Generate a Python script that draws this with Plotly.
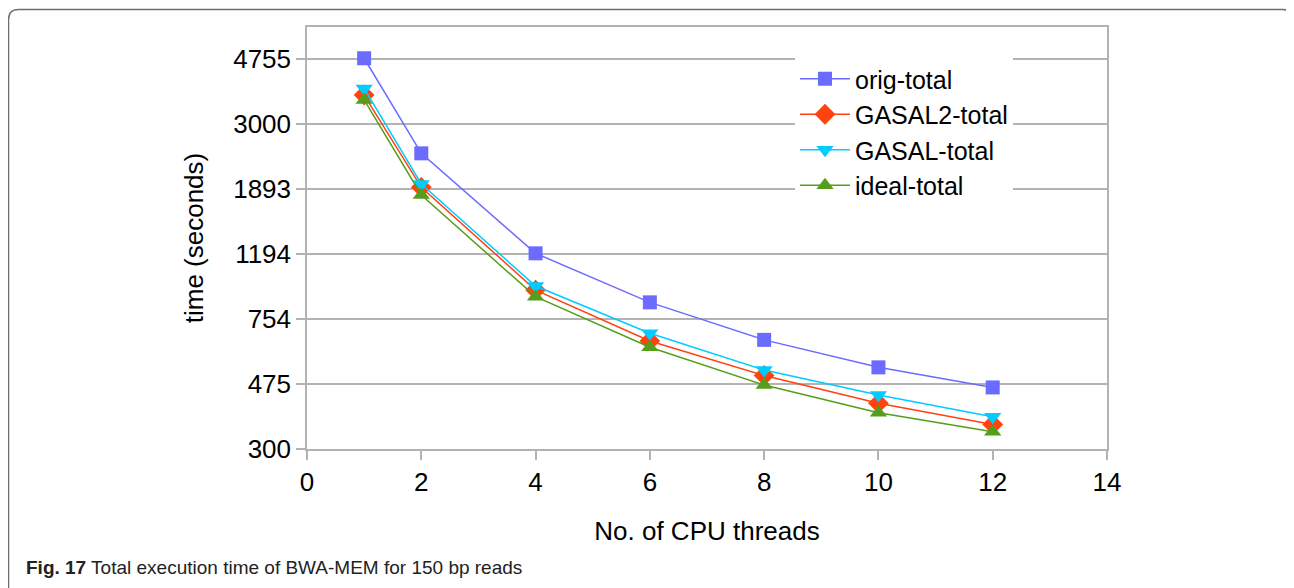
import plotly.graph_objects as go
import math

threads = [1, 2, 4, 6, 8, 10, 12]
orig_total = [4780, 2437, 1200, 848, 650, 535, 464]
gasal2_total = [3684, 1916, 925, 645, 505, 415, 357]
gasal_total = [3860, 1962, 952, 681, 525, 440, 377]
ideal_total = [3558, 1814, 883, 617, 472, 388, 339]

y_ticks = [300, 475, 754, 1194, 1893, 3000, 4755]
x_ticks = [0, 2, 4, 6, 8, 10, 12, 14]

# page body has an 8px margin; figure sized to fit the window
OFF = 8
W, H = 1294 - OFF, 588 - OFF
L, R, T, B = 307 - OFF, 1107 - OFF, 27 - OFF, 449 - OFF

def px(x):
    return (x - OFF - L) / (R - L)

def py(y):
    return (B - (y - OFF)) / (B - T)

fig = go.Figure()
series = [
    ("orig-total", orig_total, "#6b6bff", "square", 14),
    ("GASAL2-total", gasal2_total, "#ff420e", "diamond", 16),
    ("GASAL-total", gasal_total, "#00ccff", "triangle-down", 15),
    ("ideal-total", ideal_total, "#579d1c", "triangle-up", 15),
]
for name, vals, col, sym, sz in series:
    fig.add_trace(go.Scatter(
        x=threads, y=vals, name=name, mode="lines+markers",
        line=dict(color=col, width=1.5),
        marker=dict(symbol=sym, size=sz, color=col, line=dict(width=0)),
    ))

font = "Liberation Sans, Arial, sans-serif"
axcol = "#b3b3b3"
fig.update_layout(
    width=W, height=H,
    margin=dict(l=L, r=W - R, t=T, b=H - B),
    paper_bgcolor="white", plot_bgcolor="white",
    font=dict(family=font, size=26, color="black"),
    showlegend=True,
    legend=dict(
        x=px(795), y=py(56), xanchor="left", yanchor="top",
        bgcolor="white", borderwidth=0,
        font=dict(family=font, size=25, color="black"),
        itemwidth=50, tracegroupgap=0,
    ),
    xaxis=dict(
        range=[0, 14], tickvals=x_ticks, ticks="outside", ticklen=9,
        tickcolor=axcol, tickwidth=1.5,
        showline=True, linecolor=axcol, linewidth=1.5, mirror=True,
        showgrid=False, zeroline=False,
        tickfont=dict(size=26),
        title=dict(text="No. of CPU threads", font=dict(size=26), standoff=26),
    ),
    yaxis=dict(
        type="log", range=[math.log10(300), 3.7756],
        tickvals=y_ticks, ticktext=[str(v) for v in y_ticks],
        ticks="outside", ticklen=9, tickcolor=axcol, tickwidth=1.5,
        showline=True, linecolor=axcol, linewidth=1.5, mirror=True,
        showgrid=True, gridcolor=axcol, gridwidth=1.5, zeroline=False,
        tickfont=dict(size=26),
        title=dict(text="time (seconds)", font=dict(size=26), standoff=22),
    ),
)

# outer rounded frame (reference screen coordinates)
x0, x1, y0, y1, r = 8.5, 1292.5, 9.5, 640, 10
path = (f"M {px(x0)},{py(y1)} L {px(x0)},{py(y0 + r)} Q {px(x0)},{py(y0)} {px(x0 + r)},{py(y0)} "
        f"L {px(x1 - r)},{py(y0)} Q {px(x1)},{py(y0)} {px(x1)},{py(y0 + r)} L {px(x1)},{py(y1)}")
fig.add_shape(type="path", xref="paper", yref="paper", path=path,
              line=dict(color="#6e6e6e", width=1.5), layer="below")

fig.add_annotation(
    xref="paper", yref="paper", x=px(24), y=py(567), xanchor="left", yanchor="middle",
    text="<b>Fig. 17</b> Total execution time of BWA-MEM for 150 bp reads",
    showarrow=False, font=dict(family="Liberation Sans Narrow, Arial Narrow, Liberation Sans, sans-serif", size=19, color="#222"),
)

fig.write_html("out.html")
